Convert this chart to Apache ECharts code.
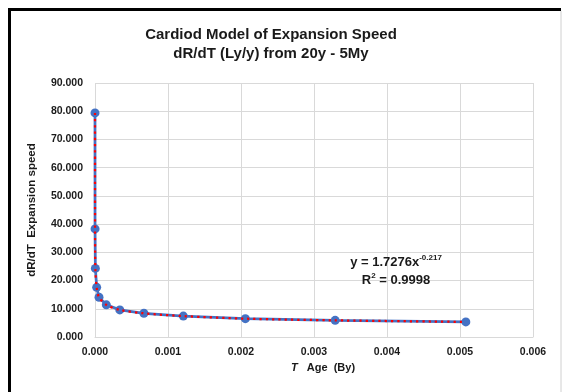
<!DOCTYPE html>
<html><head><meta charset="utf-8">
<script src="https://cdn.jsdelivr.net/npm/echarts@6/dist/echarts.min.js"></script>
<style>html,body{margin:0;padding:0;background:#fff}#c{width:562px;height:392px}</style>
</head><body><div id="c"></div>
<script>
var titleLines = ['Cardiod Model of Expansion Speed', 'dR/dT (Ly/y) from 20y - 5My'];
var ageBy = [0.00000002, 0.0000006, 0.000005, 0.000023, 0.000055, 0.000155, 0.00034, 0.00067, 0.00121, 0.00206, 0.00329, 0.00508];
var speed = [79.4, 38.3, 24.3, 17.6, 14.1, 11.4, 9.6, 8.4, 7.4, 6.5, 5.9, 5.35];
var xTicks = [0, 0.006, 0.001];
var yTicks = [0, 90, 10];
var eqLine1 = ['y = 1.7276x', '-0.217'];
var eqLine2 = ['R', '2', ' = 0.9998'];

var pts = ageBy.map(function(x, i){ return [x, speed[i]]; });
var F = 'Liberation Sans, Arial, sans-serif';
var C = '#1a1a1a';
var chart = echarts.init(document.getElementById('c'), null, {renderer:'canvas'});
chart.setOption({
  animation:false,
  title:{text:titleLines.join('\n'), left:266, top:20, textAlign:'center',
    textStyle:{fontFamily:F, fontSize:15, fontWeight:'bold', color:C, lineHeight:19}},
  grid:{left:95, right:29, top:83, bottom:55},
  xAxis:{type:'value', min:xTicks[0], max:xTicks[1], interval:xTicks[2],
    name:'{i|T}   Age  (By)', nameLocation:'middle', nameGap:21,
    nameTextStyle:{fontFamily:F, fontSize:11, fontWeight:'bold', color:C, padding:[0,0,0,18],
      rich:{i:{fontStyle:'italic', fontWeight:'bold', fontSize:11, fontFamily:F, color:C}}},
    axisLine:{show:true, lineStyle:{color:'#d9d9d9'}}, axisTick:{show:false},
    splitLine:{show:true, lineStyle:{color:'#d9d9d9', width:1}},
    axisLabel:{fontFamily:F, fontSize:10.5, fontWeight:'bold', color:C, margin:10,
      formatter:function(v){return v.toFixed(3);}}},
  yAxis:{type:'value', min:yTicks[0], max:yTicks[1], interval:yTicks[2],
    name:'dR/dT  Expansion speed', nameLocation:'middle', nameGap:57, nameRotate:90,
    nameTextStyle:{fontFamily:F, fontSize:11.5, fontWeight:'bold', color:C},
    axisLine:{show:false}, axisTick:{show:false},
    splitLine:{show:true, lineStyle:{color:'#d9d9d9', width:1}},
    axisLabel:{fontFamily:F, fontSize:10.5, fontWeight:'bold', color:C, margin:12,
      formatter:function(v){return v.toFixed(3);}}},
  series:[
    {type:'line', data:pts, symbol:'circle', symbolSize:9, z:2,
     itemStyle:{color:'#4472c4'}, lineStyle:{color:'#4472c4', width:2.75}},
    {type:'line', data:pts, symbol:'none', z:3, smooth:0.3,
     lineStyle:{color:'#ff0000', width:2.25, type:[2.25,4]}}
  ],
  graphic:[
    {type:'text', x:396, y:262, z:100, style:{
      text:'{a|'+eqLine1[0]+'}{s|'+eqLine1[1]+'}',
      align:'center', verticalAlign:'middle', fill:C, font:'bold 13px '+F,
      rich:{a:{font:'bold 13px '+F, fill:C},
            s:{font:'bold 8px '+F, fill:C, padding:[0,0,9,0]}}}},
    {type:'text', x:396, y:280, z:100, style:{
      text:'{a|'+eqLine2[0]+'}{s|'+eqLine2[1]+'}{a|'+eqLine2[2]+'}',
      align:'center', verticalAlign:'middle', fill:C, font:'bold 13px '+F,
      rich:{a:{font:'bold 13px '+F, fill:C},
            s:{font:'bold 8px '+F, fill:C, padding:[0,0,9,0]}}}},
    {type:'polyline', shape:{points:[[9.5,392],[9.5,9.5],[561,9.5]]}, style:{stroke:'#000', lineWidth:3, fill:null}},
    {type:'line', shape:{x1:561,y1:11,x2:561,y2:392}, style:{stroke:'#d0d0d0', lineWidth:1}}
  ]
});
</script></body></html>
